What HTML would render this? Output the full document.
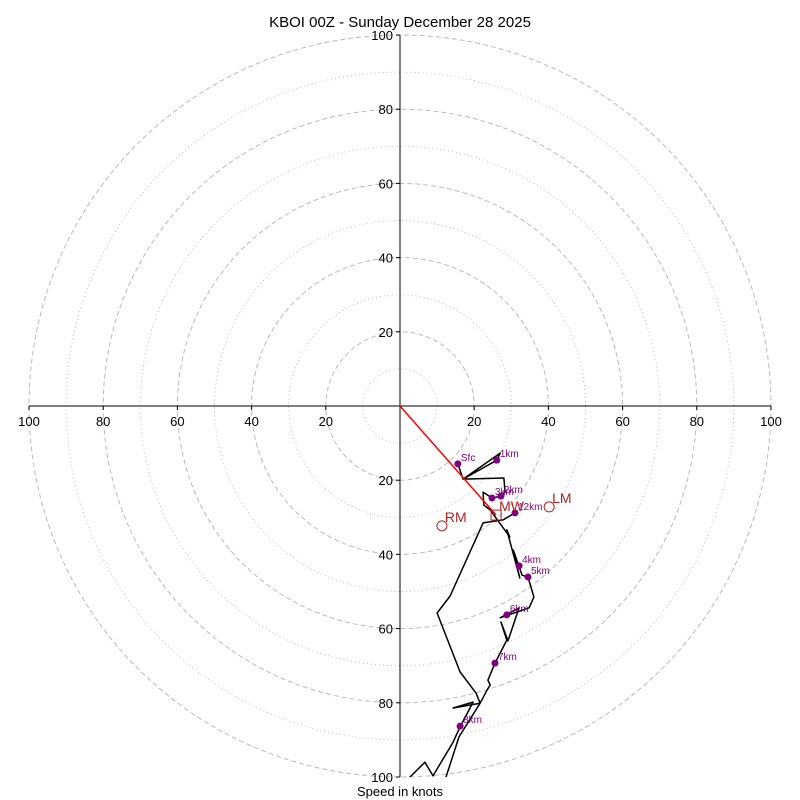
<!DOCTYPE html>
<html><head><meta charset="utf-8"><style>
html,body{margin:0;padding:0;background:#fff;}
svg{display:block;font-family:"Liberation Sans","DejaVu Sans",sans-serif;}
</style></head><body>
<svg id="chart" width="800" height="800" viewBox="0 0 800 800">
<defs><clipPath id="clip"><rect x="29" y="35" width="742" height="742"/></clipPath></defs>
<text x="400" y="27" text-anchor="middle" font-size="15">KBOI 00Z - Sunday December 28 2025</text>
<g id="rings"></g><g id="axes"></g><g id="trace" clip-path="url(#clip)"></g><g id="marks"></g>
<text x="400" y="796" text-anchor="middle" font-size="13">Speed in knots</text>
</svg>
<script>
const uWind=[15.6,17.0,26.1,27.0,17.0,28.0,28.3,27.2,24.8,22.4,22.6,24.3,29.6,28.8,32.3,30.5,32.9,34.5,36.1,34.8,27.0,32.1,29.1,27.2,28.8,25.6,23.7,24.3,23.5,21.6,14.3,19.7,16.2,14.3,8.9,6.7,2.7,1.3,10.8,15.9,21.6,20.5,16.2,10.0,13.5,22.4,27.8,31.0];
const vWind=[-15.6,-19.7,-14.6,-12.7,-19.7,-19.4,-23.2,-24.3,-24.8,-23.2,-26.7,-28.0,-35.3,-33.4,-46.4,-38.8,-45.6,-46.1,-51.5,-54.4,-57.1,-54.4,-63.3,-58.2,-63.1,-69.3,-73.9,-75.2,-76.5,-80.1,-81.4,-79.8,-86.5,-90.6,-99.7,-96.0,-100.0,-102,-104.9,-89.2,-80.1,-77.4,-71.7,-55.8,-51.2,-31.5,-30.7,-28.8];
const levelLabels=["Sfc","1km","2km","3km","4km","5km","6km","7km","8km","12km"];
const levelU=[15.6,26.1,27.2,24.8,32.1,34.5,28.8,25.6,16.2,31.0];
const levelV=[-15.6,-14.6,-24.3,-24.8,-43.1,-46.1,-56.3,-69.3,-86.3,-28.8];
const motionNames=["RM","LM","MW"];
const motionU=[11.3,40.2,25.9];
const motionV=[-32.3,-27.2,-29.4];
const tickVals=[20,40,60,80,100];
const ringVals=[10,20,30,40,50,60,70,80,90,100];

const NS="http://www.w3.org/2000/svg";
const cx=400,cy=406,S=3.71;
const X=u=>cx+u*S, Y=v=>cy-v*S;
function mk(tag,attrs,parent){const e=document.createElementNS(NS,tag);for(const k in attrs)e.setAttribute(k,attrs[k]);parent.appendChild(e);return e;}
const rings=document.getElementById('rings'),axes=document.getElementById('axes'),trace=document.getElementById('trace'),marks=document.getElementById('marks');
ringVals.forEach(r=>{
  const c=mk('circle',{cx:cx,cy:cy,r:r*S,fill:'none',stroke:'#bbb','stroke-width':1,'stroke-dasharray':(r%20===0)?'5,3':'1,3'},rings);
  
  
});
let l=mk('line',{x1:X(-100),y1:cy,x2:X(100),y2:cy,stroke:'#000','stroke-width':1},axes);


l=mk('line',{x1:cx,y1:Y(100),x2:cx,y2:Y(-100),stroke:'#000','stroke-width':1},axes);


tickVals.forEach(t=>{
  [t,-t].forEach(s=>{
    const tx=mk('text',{x:X(s),y:cy+20,'text-anchor':'middle','font-size':13},axes);tx.textContent=t;
    
    
    mk('line',{x1:X(s),y1:cy,x2:X(s),y2:cy+4,stroke:'#000'},axes);
    const ty=mk('text',{x:cx-7,y:Y(s)+5,'text-anchor':'end','font-size':13},axes);ty.textContent=t;
    
    
    mk('line',{x1:cx-4,y1:Y(s),x2:cx,y2:Y(s),stroke:'#000'},axes);
  });
});
const pts=uWind.map((u,i)=>X(u).toFixed(1)+','+Y(vWind[i]).toFixed(1)).join(' ');
const pl=mk('polyline',{points:pts,fill:'none',stroke:'#000','stroke-width':1.5,'stroke-linejoin':'round'},trace);


// mean wind vector
const vec=mk('line',{x1:cx,y1:cy,x2:X(motionU[2]),y2:Y(motionV[2]),stroke:'red','stroke-width':1.5},marks);


levelLabels.forEach((lab,i)=>{
  const d=mk('circle',{cx:X(levelU[i]),cy:Y(levelV[i]),r:3.5,fill:'purple'},marks);
  
  
  const t=mk('text',{x:X(levelU[i])+3,y:Y(levelV[i])-3,'font-size':10,fill:'purple'},marks);t.textContent=lab;
  
  
});
motionNames.forEach((n,i)=>{
  const x=X(motionU[i]),y=Y(motionV[i]);let m;
  if(n==='MW'){m=mk('rect',{x:x-5,y:y-5,width:10,height:10,fill:'none',stroke:'#b22222','stroke-width':1},marks);}
  else{m=mk('circle',{cx:x,cy:y,r:5,fill:'#fff',stroke:'#b22222','stroke-width':1},marks);}
  
  
  const t=mk('text',{x:x+3,y:y-4,'font-size':14,fill:'#b22222'},marks);t.textContent=n;
  
  
});
</script>
</body></html>
